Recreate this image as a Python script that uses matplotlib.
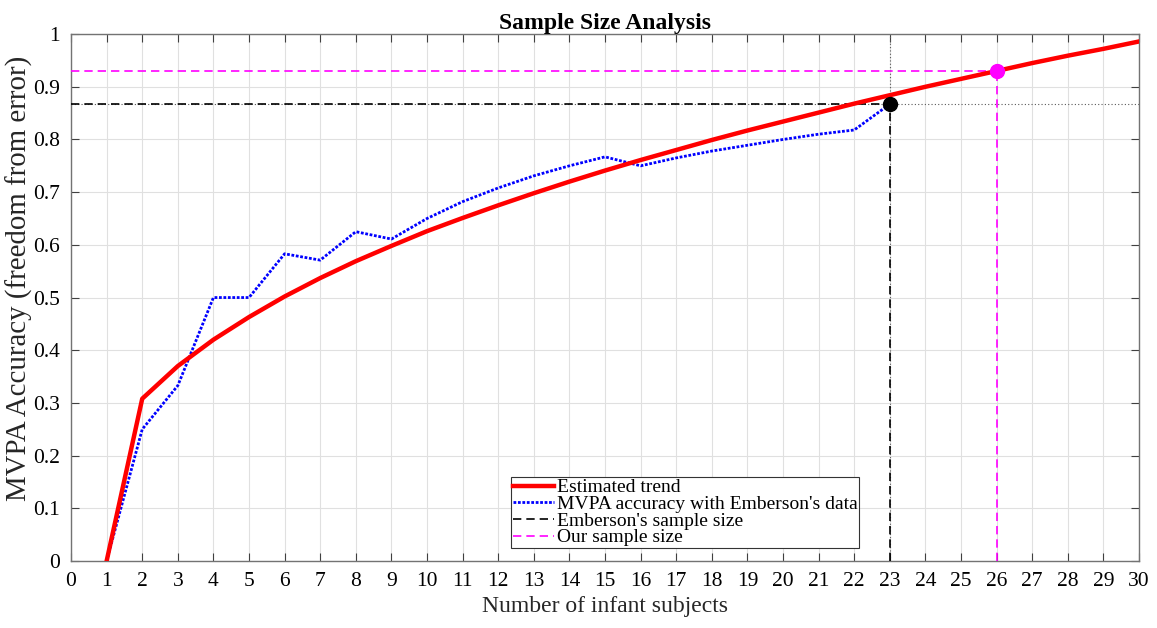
import matplotlib
matplotlib.use("Agg")
import matplotlib.pyplot as plt
import numpy as np

plt.rcParams['font.family'] = ['Liberation Serif', 'DejaVu Serif']

# Data
trend_x = list(range(1, 31))
trend_y = [0.0, 0.308, 0.370, 0.420, 0.463, 0.502, 0.537, 0.569, 0.598, 0.626,
           0.651, 0.675, 0.698, 0.720, 0.741, 0.761, 0.780, 0.799, 0.817, 0.834,
           0.851, 0.868, 0.884, 0.900, 0.915, 0.930, 0.945, 0.959, 0.972, 0.986]
mvpa_x = list(range(1, 24))
mvpa_y = [0.0, 0.25, 0.333, 0.5, 0.5, 0.583, 0.571, 0.625, 0.611, 0.65,
          0.682, 0.708, 0.731, 0.75, 0.767, 0.75, 0.765, 0.778, 0.789, 0.80,
          0.81, 0.818, 0.867]
emb_n, emb_acc = 23, 0.867
our_n, our_acc = 26, 0.930

fig = plt.figure(figsize=(11.57, 6.28), dpi=100)
ax = fig.add_axes([0.0614, 0.1067, 0.923, 0.839])

ax.plot(trend_x, trend_y, color='red', lw=3.2, label='Estimated trend', zorder=4)
ax.plot(mvpa_x, mvpa_y, color='blue', lw=2, ls=(0, (1, 0.6)), label="MVPA accuracy with Emberson's data", zorder=3)

# dotted reference lines for Emberson
ax.axhline(emb_acc, color='0.35', lw=0.8, ls=(0, (1, 2)), zorder=2)
ax.axvline(emb_n, color='0.35', lw=0.8, ls=(0, (1, 2)), zorder=2)
ax.plot([0, emb_n], [emb_acc, emb_acc], color='black', lw=1.2, ls=(0, (5, 3)), label="Emberson's sample size", zorder=3)
ax.plot([emb_n, emb_n], [0, emb_acc], color='black', lw=1.2, ls=(0, (5, 3)), zorder=3)
ax.plot([0, our_n], [our_acc, our_acc], color='magenta', lw=1.2, ls=(0, (5, 3)), label='Our sample size', zorder=3)
ax.plot([our_n, our_n], [0, our_acc], color='magenta', lw=1.2, ls=(0, (5, 3)), zorder=3)
ax.plot([emb_n], [emb_acc], 'o', color='black', ms=10, zorder=5)
ax.plot([our_n], [our_acc], 'o', color='magenta', ms=10, zorder=5)

ax.set_xlim(0, 30)
ax.set_ylim(0, 1)
ax.set_xticks(range(0, 31))
yt = [i / 10 for i in range(11)]
ax.set_yticks(yt)
ax.set_yticklabels(['0'] + [f'{v:.1f}' for v in yt[1:-1]] + ['1'])
ax.tick_params(direction='in', top=True, right=True, labelsize=15.5, length=6, color='0.25', pad=8)
ax.grid(True, color='0.88', lw=0.8)
ax.set_axisbelow(True)
for s in ax.spines.values():
    s.set_color('0.45')
    s.set_linewidth(1)

ax.set_xlabel('Number of infant subjects', fontsize=17, color='0.15')
ax.xaxis.set_label_coords(0.5, -0.066)
ax.set_ylabel('MVPA Accuracy (freedom from error)', fontsize=20.8, color='0.15')
ax.yaxis.set_label_coords(-0.036, 0.537)
ax.set_title('Sample Size Analysis', fontsize=17, fontweight='bold', pad=4)

leg = ax.legend(loc='lower center', bbox_to_anchor=(0.575, 0.024), fontsize=14, frameon=True,
                fancybox=False, edgecolor='0.2', framealpha=1, handlelength=2.1,
                borderpad=0.1, labelspacing=-0.05, handletextpad=0.15, borderaxespad=0)
leg.get_frame().set_linewidth(0.8)

fig.savefig('out.png', dpi=100)
